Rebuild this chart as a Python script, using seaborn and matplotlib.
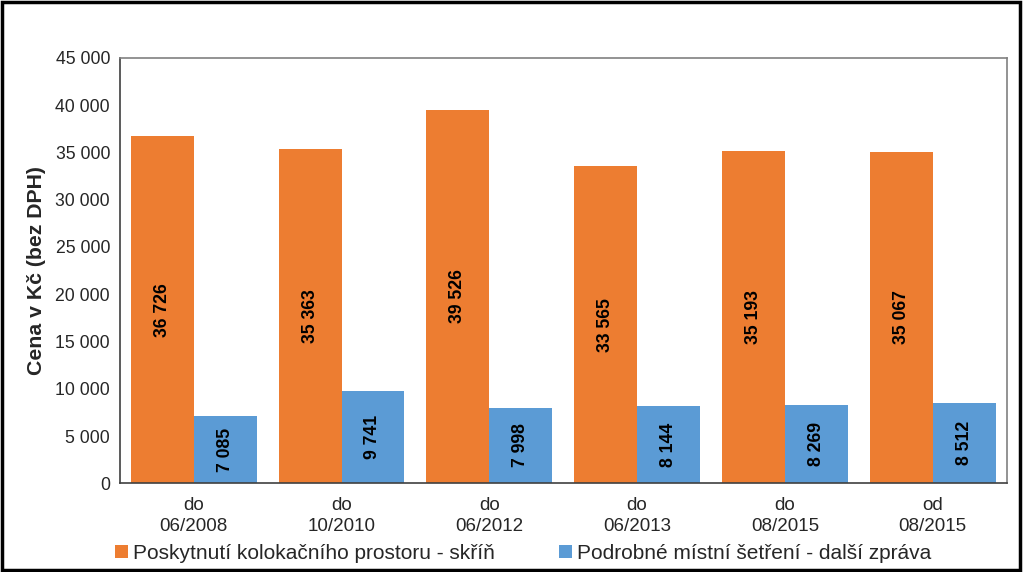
import pandas as pd
import numpy as np
import matplotlib.pyplot as plt
import seaborn as sns

categories = ["do\n06/2008", "do\n10/2010", "do\n06/2012", "do\n06/2013", "do\n08/2015", "od\n08/2015"]
kolokace = [36726, 35363, 39526, 33565, 35193, 35067]
setreni = [7085, 9741, 7998, 8144, 8269, 8512]
series_names = ["Poskytnutí kolokačního prostoru - skříň", "Podrobné místní šetření - další zpráva"]

data = pd.DataFrame({
    "obdobi": categories * 2,
    "cena": kolokace + setreni,
    "sluzba": [series_names[0]] * 6 + [series_names[1]] * 6,
})

sns.set_style("white")
plt.rcParams['font.family'] = ['Liberation Sans', 'DejaVu Sans']

fig = plt.figure(figsize=(10.24, 5.72), dpi=100)
ax = fig.add_axes([0.117, 0.155, 0.866, 0.744])

sns.barplot(data=data, x="obdobi", y="cena", hue="sluzba",
            palette=["#ED7D31", "#5B9BD5"], width=0.85, saturation=1,
            errorbar=None, linewidth=0, ax=ax)

# value labels rotated inside bars
fmt = lambda v: f"{int(v):,}".replace(",", " ")
for cont in ax.containers:
    ax.bar_label(cont, labels=[fmt(b.get_height()) for b in cont], label_type="center",
                 rotation=90, fontsize=12.7, fontweight="bold", color="black")

ax.set_ylim(0, 45000)
ax.set_yticks(np.arange(0, 45001, 5000))
ax.set_yticklabels([fmt(v) for v in np.arange(0, 45001, 5000)], fontsize=12.7)
ax.set_xlim(-0.5, 5.5)
ax.set_xticks(range(6))
ax.set_xticklabels(categories, fontsize=13.5, linespacing=1.3)
ax.tick_params(axis="x", length=0, pad=10)
ax.tick_params(axis="y", direction="inout", length=8, width=1, color="#404040", pad=3)
# category separators on x axis
ax.set_xticks(np.arange(-0.5, 6.0, 1), minor=True)
ax.tick_params(axis="x", which="minor", direction="inout", length=8, color="#808080")

ax.set_xlabel("")
ax.set_ylabel("Cena v Kč (bez DPH)", fontsize=15.3, fontweight="bold", labelpad=7)

for side in ["top", "right"]:
    ax.spines[side].set_color("#808080")
for side in ["left", "bottom"]:
    ax.spines[side].set_color("#404040")
for s in ax.spines.values():
    s.set_linewidth(1.2)

leg = ax.legend(loc="center", bbox_to_anchor=(0.455, -0.165), ncol=2, frameon=False,
                fontsize=15, handlelength=0.6, handleheight=0.6, handletextpad=0.25,
                columnspacing=3.1, borderaxespad=0)

# outer frame
fig.patches.append(plt.Rectangle((0.002, 0.004), 0.994, 0.992, transform=fig.transFigure,
                                 fill=False, edgecolor="black", linewidth=2.5))

fig.savefig("out.png", dpi=100)
